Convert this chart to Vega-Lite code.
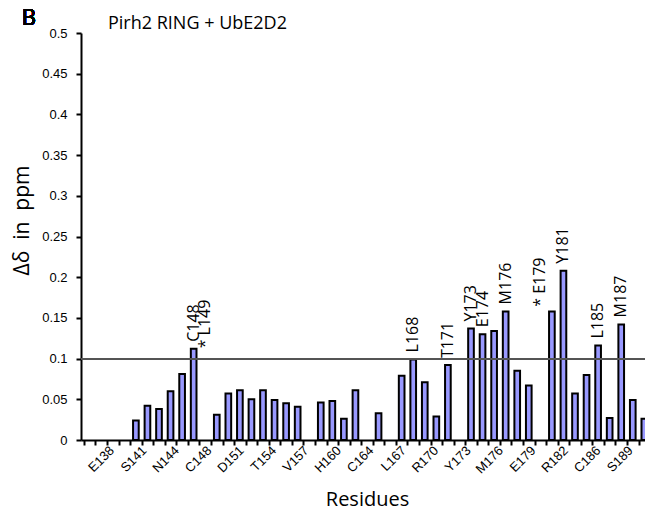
{
  "$schema": "https://vega.github.io/schema/vega-lite/v6.json",
  "autosize": {"type": "none"},
  "width": 572,
  "height": 407,
  "padding": {"left": 81, "top": 33, "right": 0, "bottom": 68},
  "background": "white",
  "config": {
    "view": {"stroke": null},
    "axis": {
      "domainColor": "black",
      "domainWidth": 2,
      "tickColor": "black",
      "tickWidth": 2,
      "tickSize": 5,
      "labelColor": "black",
      "labelFont": "Liberation Sans",
      "labelFontSize": 13,
      "titleColor": "black",
      "titleFont": "Open Sans",
      "titleFontWeight": "normal",
      "grid": false
    }
  },
  "title": {
    "text": "Pirh2 RING + UbE2D2",
    "anchor": "start",
    "frame": "group",
    "dx": 27,
    "offset": -26,
    "font": "Open Sans",
    "fontSize": 18,
    "fontWeight": "normal",
    "color": "black"
  },
  "data": {
    "values": [
      {"residue": "142", "shift": 0.024},
      {"residue": "143", "shift": 0.042},
      {"residue": "N144", "shift": 0.038},
      {"residue": "145", "shift": 0.060},
      {"residue": "147", "shift": 0.081},
      {"residue": "C148", "shift": 0.112, "label": "C148"},
      {"residue": "L149", "label": "* L149", "labelAt": 0.104},
      {"residue": "150", "shift": 0.031},
      {"residue": "D151", "shift": 0.057},
      {"residue": "152", "shift": 0.061},
      {"residue": "153", "shift": 0.050},
      {"residue": "T154", "shift": 0.061},
      {"residue": "155", "shift": 0.049},
      {"residue": "156", "shift": 0.045},
      {"residue": "V157", "shift": 0.041},
      {"residue": "159", "shift": 0.046},
      {"residue": "H160", "shift": 0.048},
      {"residue": "161", "shift": 0.026},
      {"residue": "163", "shift": 0.061},
      {"residue": "165", "shift": 0.033},
      {"residue": "L167", "shift": 0.079},
      {"residue": "L168", "shift": 0.099, "label": "L168"},
      {"residue": "169", "shift": 0.071},
      {"residue": "R170", "shift": 0.029},
      {"residue": "T171", "shift": 0.092, "label": "T171"},
      {"residue": "Y173", "shift": 0.137, "label": "Y173"},
      {"residue": "E174", "shift": 0.130, "label": "E174"},
      {"residue": "175", "shift": 0.134},
      {"residue": "M176", "shift": 0.158, "label": "M176"},
      {"residue": "177", "shift": 0.085},
      {"residue": "178", "shift": 0.067},
      {"residue": "E179", "label": "* E179", "labelAt": 0.155},
      {"residue": "180", "shift": 0.158},
      {"residue": "Y181", "shift": 0.208, "label": "Y181"},
      {"residue": "R182", "shift": 0.057},
      {"residue": "183", "shift": 0.080},
      {"residue": "L185", "shift": 0.116, "label": "L185"},
      {"residue": "C186", "shift": 0.027},
      {"residue": "M187", "shift": 0.142, "label": "M187"},
      {"residue": "188", "shift": 0.049},
      {"residue": "S189", "shift": 0.026}
    ]
  },
  "layer": [
    {
      "mark": {"type": "bar", "fill": "#9999ff", "stroke": "black", "strokeWidth": 2, "width": {"band": 0.49}},
      "encoding": {
        "x": {
          "field": "residue",
          "type": "nominal",
          "sort": null,
          "title": "Residues",
          "scale": {
            "domain": ["E138","139","140","S141","142","143","N144","145","147","C148","L149","150","D151","152","153","T154","155","156","V157","158","159","H160","161","163","C164","165","166","L167","L168","169","R170","T171","172","Y173","E174","175","M176","177","178","E179","180","Y181","R182","183","L185","C186","M187","188","S189"],
            "paddingInner": 0,
            "paddingOuter": 0.25
          },
          "axis": {
            "titleFontSize": 20,
            "titleY": 65,
            "titleBaseline": "alphabetic",
            "labelAngle": -45,
            "labelAlign": "right",
            "labelBaseline": "middle",
            "labelPadding": 3,
            "labelOverlap": false,
            "labelBound": false,
            "tickBand": "extent",
            "labelOffset": {"expr": "22 - 36 * datum.index"},
            "labelExpr": "indexof(['E138','S141','N144','C148','D151','T154','V157','H160','C164','L167','R170','Y173','M176','E179','R182','C186','S189'], datum.value) >= 0 ? datum.value : ''"
          }
        },
        "y": {
          "field": "shift",
          "type": "quantitative",
          "title": "Δδ\u00a0 in\u00a0 ppm",
          "scale": {"domain": [0, 0.5]},
          "axis": {
            "titleFontSize": 21,
            "titleX": -49,
            "titleY": 187,
            "titleBaseline": "bottom",
            "values": [0, 0.05, 0.1, 0.15, 0.2, 0.25, 0.3, 0.35, 0.4, 0.45, 0.5],
            "format": "~f",
            "labelPadding": 9
          }
        }
      }
    },
    {
      "mark": {"type": "rule", "color": "#555555", "strokeWidth": 1.2},
      "encoding": {"y": {"datum": 0.1, "type": "quantitative", "title": "Δδ\u00a0 in\u00a0 ppm"}}
    },
    {
      "transform": [
        {"filter": "datum.label"},
        {"calculate": "isValid(datum.shift) ? datum.shift : datum.labelAt", "as": "labelY"}
      ],
      "mark": {"type": "text", "angle": 270, "align": "left", "baseline": "middle", "dx": 7, "font": "Open Sans", "fontSize": 16, "color": "black"},
      "encoding": {
        "x": {"field": "residue", "type": "nominal", "sort": null, "title": "Residues"},
        "y": {"field": "labelY", "type": "quantitative", "title": "Δδ\u00a0 in\u00a0 ppm"},
        "text": {"field": "label"}
      }
    },
    {
      "mark": {"type": "text", "text": "B", "align": "left", "baseline": "alphabetic", "dx": -68, "dy": -8, "font": "Open Sans", "fontSize": 22, "fontWeight": "normal", "color": "black"},
      "encoding": {
        "x": {"datum": "E138", "type": "nominal", "title": "Residues"},
        "y": {"datum": 0.5, "type": "quantitative", "title": "Δδ\u00a0 in\u00a0 ppm"}
      }
    }
  ]
}
